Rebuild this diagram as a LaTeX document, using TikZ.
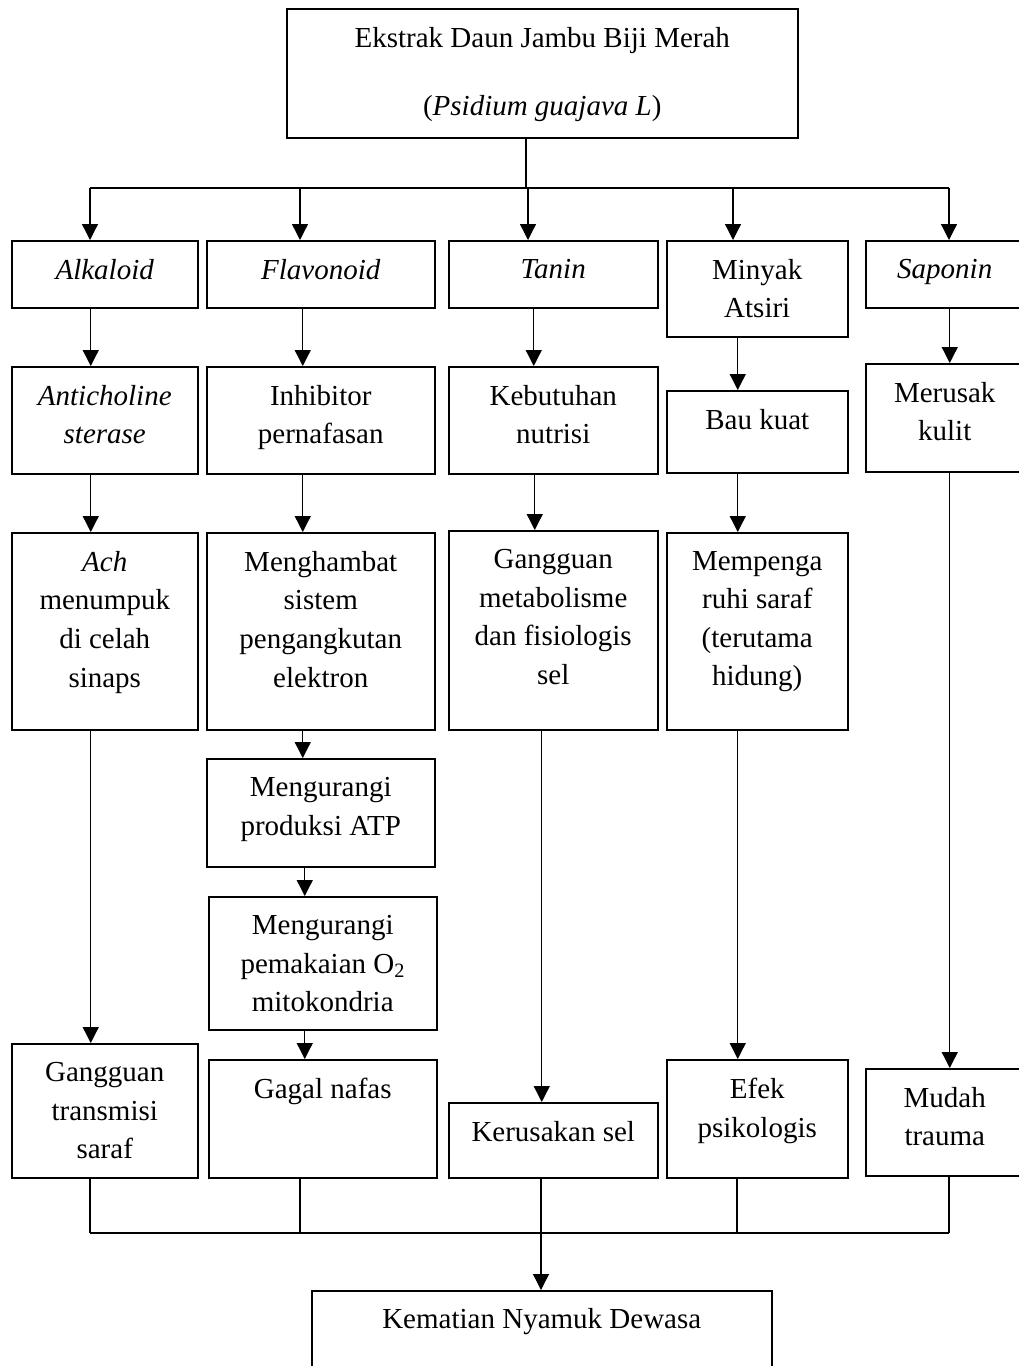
\documentclass[tikz,border=0pt]{standalone}
\usepackage{fontspec}
\setmainfont{Liberation Serif}
\usetikzlibrary{arrows.meta, positioning}
\tikzstyle{kotak} = [rectangle, draw=black, line width=1.5pt, anchor=north west, inner sep=0pt]
\tikzstyle{teks} = [anchor=north, align=center, inner sep=0pt, font=\fontsize{29}{38.6}\selectfont]
\tikzstyle{garis} = [line width=1.3pt]
\tikzstyle{arrow} = [garis, -{Triangle[length=16pt,width=16pt]}]

\begin{document}
\begin{tikzpicture}[x=1pt, y=1pt]
\useasboundingbox (0,0) rectangle (1019,-1366);
%kotak utama
\node (src) [kotak, minimum width=511pt, minimum height=129pt] at (286,-8) {};
\node (src-t) [teks, below=19pt of src.north] {Ekstrak Daun Jambu Biji Merah\\[29.4pt](\textit{Psidium guajava L})};

%senyawa
\node (alk) [kotak, minimum width=186pt, minimum height=67pt] at (11,-240) {};
\node (fla) [kotak, minimum width=228pt, minimum height=67pt] at (206,-240) {};
\node (tan) [kotak, minimum width=209pt, minimum height=67pt] at (448,-240) {};
\node (min) [kotak, minimum width=181pt, minimum height=96pt] at (666,-240) {};
\node (sap) [kotak, minimum width=158pt, minimum height=67pt] at (865,-240) {};
\node (alk-t) [teks, below=19pt of alk.north] {\textit{Alkaloid}};
\node (fla-t) [teks, below=19pt of fla.north] {\textit{Flavonoid}};
\node (tan-t) [teks, below=19pt of tan.north] {\textit{Tanin}};
\node (min-t) [teks, below=19pt of min.north] {Minyak\\Atsiri};
\node (sap-t) [teks, below=19pt of sap.north] {\textit{Saponin}};

%cara kerja
\node (anti) [kotak, minimum width=186pt, minimum height=107pt] at (11,-366) {};
\node (inhi) [kotak, minimum width=228pt, minimum height=107pt] at (206,-366) {};
\node (kebu) [kotak, minimum width=209pt, minimum height=107pt] at (448,-366) {};
\node (bau) [kotak, minimum width=181pt, minimum height=82pt] at (666,-390) {};
\node (meru) [kotak, minimum width=158pt, minimum height=108pt] at (865,-363) {};
\node (anti-t) [teks, below=19pt of anti.north] {\textit{Anticholine}\\\textit{sterase}};
\node (inhi-t) [teks, below=19pt of inhi.north] {Inhibitor\\pernafasan};
\node (kebu-t) [teks, below=19pt of kebu.north] {Kebutuhan\\nutrisi};
\node (bau-t) [teks, below=19pt of bau.north] {Bau kuat};
\node (meru-t) [teks, below=19pt of meru.north] {Merusak\\kulit};

\node (ach) [kotak, minimum width=186pt, minimum height=197pt] at (11,-532) {};
\node (hamb) [kotak, minimum width=228pt, minimum height=197pt] at (206,-532) {};
\node (meta) [kotak, minimum width=209pt, minimum height=199pt] at (448,-530) {};
\node (saraf) [kotak, minimum width=181pt, minimum height=197pt] at (666,-532) {};
\node (ach-t) [teks, below=19pt of ach.north] {\textit{Ach}\\menumpuk\\di celah\\sinaps};
\node (hamb-t) [teks, below=19pt of hamb.north] {Menghambat\\sistem\\pengangkutan\\elektron};
\node (meta-t) [teks, below=19pt of meta.north] {Gangguan\\metabolisme\\dan fisiologis\\sel};
\node (saraf-t) [teks, below=19pt of saraf.north] {Mempenga\\ruhi saraf\\(terutama\\hidung)};

\node (atp) [kotak, minimum width=228pt, minimum height=108pt] at (206,-758) {};
\node (oksi) [kotak, minimum width=228pt, minimum height=133pt] at (208,-896) {};
\node (atp-t) [teks, below=19pt of atp.north] {Mengurangi\\produksi ATP};
\node (oksi-t) [teks, below=19pt of oksi.north] {Mengurangi\\pemakaian O\textsubscript{2}\\mitokondria};

%akibat
\node (trans) [kotak, minimum width=186pt, minimum height=134pt] at (11,-1043) {};
\node (gagal) [kotak, minimum width=228pt, minimum height=118pt] at (208,-1059) {};
\node (rusak) [kotak, minimum width=209pt, minimum height=75pt] at (448,-1102) {};
\node (efek) [kotak, minimum width=181pt, minimum height=118pt] at (666,-1059) {};
\node (mudah) [kotak, minimum width=158pt, minimum height=107pt] at (865,-1068) {};
\node (trans-t) [teks, below=19pt of trans.north] {Gangguan\\transmisi\\saraf};
\node (gagal-t) [teks, below=19pt of gagal.north] {Gagal nafas};
\node (rusak-t) [teks, below=19pt of rusak.north] {Kerusakan sel};
\node (efek-t) [teks, below=19pt of efek.north] {Efek\\psikologis};
\node (mudah-t) [teks, below=19pt of mudah.north] {Mudah\\trauma};

\node (mati) [kotak, minimum width=460pt, minimum height=110pt] at (311,-1290) {};
\node (mati-t) [teks, below=18pt of mati.north] {Kematian Nyamuk Dewasa};

%cabang atas
\coordinate (c0) at (526,-188);
\coordinate (c1) at (90,-188);
\coordinate (c2) at (300,-188);
\coordinate (c3) at (528,-188);
\coordinate (c4) at (733,-188);
\coordinate (c5) at (949,-188);
\draw [garis](src.south -| c0) -- (c0);
\draw [garis](c1) -- (c5);
\draw [arrow](c1) -- (alk.north -| c1);
\draw [arrow](c2) -- (fla.north -| c2);
\draw [arrow](c3) -- (tan.north -| c3);
\draw [arrow](c4) -- (min.north -| c4);
\draw [arrow](c5) -- (sap.north -| c5);

%panah tiap kolom
\draw [arrow]([xshift=-14pt]alk.south) -- ([xshift=-14pt]anti.north);
\draw [arrow]([xshift=-14pt]anti.south) -- ([xshift=-14pt]ach.north);
\draw [arrow]([xshift=-14pt]ach.south) -- ([xshift=-14pt]trans.north);
\draw [arrow]([xshift=-18pt]fla.south) -- ([xshift=-18pt]inhi.north);
\draw [arrow]([xshift=-18pt]inhi.south) -- ([xshift=-18pt]hamb.north);
\draw [arrow]([xshift=-18pt]hamb.south) -- ([xshift=-18pt]atp.north);
\draw [arrow]([xshift=-16pt]atp.south) -- ([xshift=-18pt]oksi.north);
\draw [arrow]([xshift=-18pt]oksi.south) -- ([xshift=-18pt]gagal.north);
\draw [arrow]([xshift=-19.5pt]tan.south) -- ([xshift=-19.5pt]kebu.north);
\draw [arrow]([xshift=-18.5pt]kebu.south) -- ([xshift=-18.5pt]meta.north);
\draw [arrow]([xshift=-11.5pt]meta.south) -- ([xshift=-11.5pt]rusak.north);
\draw [arrow]([xshift=-19.5pt]min.south) -- ([xshift=-19.5pt]bau.north);
\draw [arrow]([xshift=-19.5pt]bau.south) -- ([xshift=-19.5pt]saraf.north);
\draw [arrow]([xshift=-19.5pt]saraf.south) -- ([xshift=-19.5pt]efek.north);
\draw [arrow]([xshift=5pt]sap.south) -- ([xshift=5pt]meru.north);
\draw [arrow]([xshift=5pt]meru.south) -- ([xshift=5pt]mudah.north);

%cabang bawah
\coordinate (d1) at (90,-1233);
\coordinate (d2) at (300,-1233);
\coordinate (d3) at (541,-1233);
\coordinate (d4) at (737,-1233);
\coordinate (d5) at (949,-1233);
\draw [garis](trans.south -| d1) -- (d1);
\draw [garis](gagal.south -| d2) -- (d2);
\draw [garis](rusak.south -| d3) -- (d3);
\draw [garis](efek.south -| d4) -- (d4);
\draw [garis](mudah.south -| d5) -- (d5);
\draw [garis](d1) -- (d5);
\draw [arrow](d3) -- (mati.north -| d3);
\end{tikzpicture}
\end{document}
